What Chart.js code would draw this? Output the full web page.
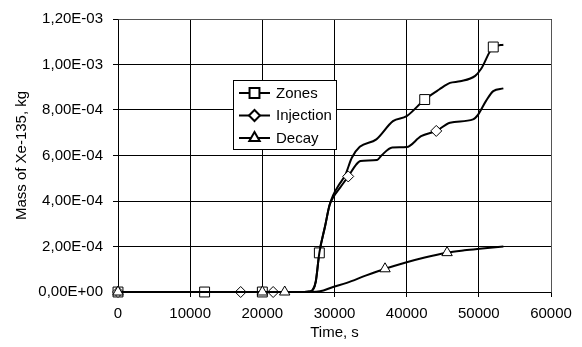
<!DOCTYPE html>
<html>
<head>
<meta charset="utf-8">
<script src="https://cdn.jsdelivr.net/npm/chart.js@4/dist/chart.umd.min.js"></script>
<style>
  html, body { margin: 0; padding: 0; background: #fff; }
  #wrap { width: 582px; height: 347px; }
</style>
</head>
<body>
<div id="wrap"><canvas id="xeChart" width="582" height="347"></canvas></div>
<script>
// Xe-135 mass vs time, three calculation variants

const xTicks = [0, 10000, 20000, 30000, 40000, 50000, 60000];
const yTicks = [0, 2e-4, 4e-4, 6e-4, 8e-4, 1.0e-3, 1.2e-3];

const zonesTime = [0, 12000, 20000, 25800, 26500, 27000, 27400, 27900, 28700, 29300, 29800, 30600, 31500, 32400, 33500, 35800, 38100, 40000, 42500, 44500, 46000, 47400, 49500, 50300, 52000, 53400];
const zonesMass = [0, 0, 0, 0, 0.02e-4, 0.1e-4, 0.45e-4, 1.72e-4, 2.9e-4, 3.8e-4, 4.25e-4, 4.7e-4, 5.15e-4, 5.9e-4, 6.38e-4, 6.71e-4, 7.51e-4, 7.73e-4, 8.46e-4, 8.9e-4, 9.19e-4, 9.26e-4, 9.5e-4, 9.8e-4, 10.77e-4, 10.87e-4];
const zonesMarks = [0, 12000, 20000, 27900, 42500, 52000];

const injTime = [0, 17000, 21500, 25800, 26500, 27000, 27400, 27900, 28700, 29300, 29800, 30800, 31900, 33000, 33600, 35900, 36500, 38000, 40000, 42000, 44100, 46000, 49200, 49900, 51000, 52000, 53400];
const injMass = [0, 0, 0, 0, 0.02e-4, 0.1e-4, 0.45e-4, 1.72e-4, 2.9e-4, 3.8e-4, 4.15e-4, 4.6e-4, 5.08e-4, 5.6e-4, 5.76e-4, 5.8e-4, 6.0e-4, 6.35e-4, 6.37e-4, 6.85e-4, 7.08e-4, 7.44e-4, 7.59e-4, 7.8e-4, 8.4e-4, 8.83e-4, 8.95e-4];
const injMarks = [0, 17000, 21500, 31900, 44100];

const decayTime = [0, 20000, 23100, 26800, 28000, 29800, 31700, 34400, 37000, 40000, 42500, 45600, 48000, 50100, 53400];
const decayMass = [0, 0, 0, 0, 0.03e-4, 0.22e-4, 0.4e-4, 0.73e-4, 1.02e-4, 1.31e-4, 1.52e-4, 1.73e-4, 1.83e-4, 1.9e-4, 2.0e-4];
const decayMarks = [0, 20000, 23100, 37000, 45600];

const FONT = 'Liberation Sans, Arial, sans-serif';

// 1.2e-3 -> "1,20E-03"
function fmtSci(v) {
    if (Math.abs(v) < 1e-12) return '0,00E+00';
    const parts = v.toExponential(2).split('e');
    const e = parseInt(parts[1], 10);
    return parts[0].replace('.', ',') + 'E' + (e < 0 ? '-' : '+') + String(Math.abs(e)).padStart(2, '0');
}

function toPoints(xs, ys) {
    return xs.map((x, i) => ({ x: x, y: ys[i] }));
}

function makeSeries(label, xs, ys, marks, style, radius, order) {
    return {
        label: label,
        data: toPoints(xs, ys),
        borderColor: '#000',
        borderWidth: 2,
        cubicInterpolationMode: 'monotone',
        pointStyle: style,
        pointRadius: ctx => (ctx.raw && marks.includes(ctx.raw.x)) ? radius : 0,
        pointBackgroundColor: '#fff',
        pointBorderColor: '#000',
        pointBorderWidth: 1,
        clip: false,
        order: order
    };
}

const seriesDefs = [
    makeSeries('Zones', zonesTime, zonesMass, zonesMarks, 'rect', 7, 3),
    makeSeries('Injection', injTime, injMass, injMarks, 'rectRot', 5.5, 2),
    makeSeries('Decay', decayTime, decayMass, decayMarks, 'triangle', 6, 1)
];

// solid top and right edge of the plot area
const framePlugin = {
    id: 'frame',
    beforeDatasetsDraw(chart) {
        const a = chart.chartArea;
        const ctx = chart.ctx;
        ctx.save();
        ctx.strokeStyle = '#555';
        ctx.lineWidth = 1;
        ctx.beginPath();
        ctx.moveTo(Math.round(a.left) + 0.5, Math.round(a.top) + 0.5);
        ctx.lineTo(Math.round(a.right) + 0.5, Math.round(a.top) + 0.5);
        ctx.lineTo(Math.round(a.right) + 0.5, Math.round(a.bottom) + 0.5);
        ctx.stroke();
        ctx.restore();
    }
};

// legend box inside the plot, line sample with marker
const boxLegend = {
    id: 'boxLegend',
    afterDraw(chart) {
        const ctx = chart.ctx;
        const bx = 233.5, by = 80.5, bw = 103, bh = 69;
        ctx.save();
        ctx.fillStyle = '#fff';
        ctx.strokeStyle = '#000';
        ctx.lineWidth = 1;
        ctx.fillRect(bx, by, bw, bh);
        ctx.strokeRect(bx, by, bw, bh);
        ctx.font = '15px ' + FONT;
        ctx.textBaseline = 'middle';
        const rowY = [93, 115.5, 138];
        chart.data.datasets.forEach((ds, i) => {
            const y = rowY[i];
            ctx.strokeStyle = '#000';
            ctx.lineWidth = 2;
            ctx.beginPath();
            ctx.moveTo(239, y);
            ctx.lineTo(270, y);
            ctx.stroke();
            const r = ds.pointStyle === 'rect' ? 7 : (ds.pointStyle === 'triangle' ? 6 : 5.5);
            ctx.fillStyle = '#fff';
            ctx.strokeStyle = '#000';
            Chart.helpers.drawPoint(ctx, { pointStyle: ds.pointStyle, radius: r, rotation: 0, borderWidth: 1 }, 254.5, y);
            ctx.fillStyle = '#000';
            ctx.fillText(ds.label, 276, y + 0.5);
        });
        ctx.restore();
    }
};

new Chart(document.getElementById('xeChart'), {
    type: 'line',
    data: { datasets: seriesDefs },
    options: {
        responsive: false,
        animation: false,
        layout: { padding: { top: 17, right: 31, left: 0, bottom: 0 } },
        plugins: {
            legend: { display: false },
            tooltip: { enabled: false }
        },
        scales: {
            x: {
                type: 'linear',
                min: 0,
                max: 60000,
                afterBuildTicks: s => { s.ticks = xTicks.map(v => ({ value: v })); },
                afterFit: s => { s.height = 55; },
                ticks: {
                    color: '#000',
                    font: { family: FONT, size: 15 },
                    padding: 8,
                    maxRotation: 0,
                    callback: v => String(v)
                },
                grid: {
                    color: '#000',
                    lineWidth: 1,
                    borderDash: [35.7, 10],
                    borderDashOffset: 28.2,
                    tickLength: 5,
                    tickColor: '#000'
                },
                border: { display: true, color: '#000', width: 1 },
                title: {
                    display: true,
                    text: 'Time, s',
                    color: '#000',
                    font: { family: FONT, size: 15 },
                    padding: { top: 0, bottom: 5 }
                }
            },
            y: {
                type: 'linear',
                min: 0,
                max: 1.2e-3,
                afterBuildTicks: s => { s.ticks = yTicks.map(v => ({ value: v })); },
                afterFit: s => { s.width = 118; },
                ticks: {
                    color: '#000',
                    font: { family: FONT, size: 15 },
                    padding: 10,
                    callback: v => fmtSci(v)
                },
                grid: {
                    color: '#000',
                    lineWidth: 1,
                    borderDash: [57.5, 14.7],
                    borderDashOffset: 64.85,
                    tickLength: 5,
                    tickColor: '#000'
                },
                border: { display: true, color: '#000', width: 1 },
                title: {
                    display: true,
                    text: 'Mass of Xe-135, kg',
                    color: '#000',
                    font: { family: FONT, size: 15 },
                    padding: { top: 13, bottom: 0 }
                }
            }
        }
    },
    plugins: [framePlugin, boxLegend]
});
</script>
</body>
</html>
